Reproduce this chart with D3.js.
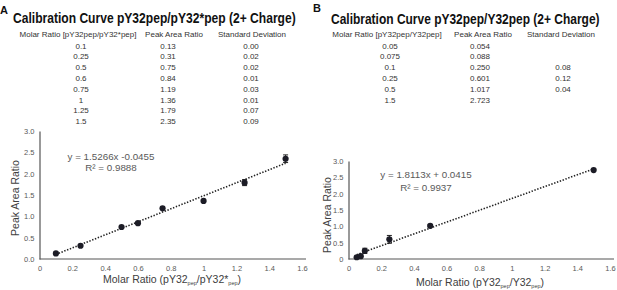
<!DOCTYPE html>
<html lang="en">
<head>
  <meta charset="UTF-8">
  <title>Calibration Curves</title>
  <script src="https://d3js.org/d3.v7.min.js"></script>
  <style>
    body { margin: 0; background: #fff; }
    svg { display: block; font-family: Arial, "Liberation Sans", sans-serif; }
  </style>
</head>
<body>
  <div id="chart"></div>
  <script>
    // panel A data
    const ratiosA = [0.1, 0.25, 0.5, 0.6, 0.75, 1, 1.25, 1.5]
    const ratioLabelsA = ['0.1', '0.25', '0.5', '0.6', '0.75', '1', '1.25', '1.5']
    const peakA = [0.13, 0.31, 0.75, 0.84, 1.19, 1.36, 1.79, 2.35]
    const peakLabelsA = ['0.13', '0.31', '0.75', '0.84', '1.19', '1.36', '1.79', '2.35']
    const sdA = [0.00, 0.02, 0.02, 0.01, 0.03, 0.01, 0.07, 0.09]
    const sdLabelsA = ['0.00', '0.02', '0.02', '0.01', '0.03', '0.01', '0.07', '0.09']
    const fitA = [1.5266, -0.0455]
    const fitTextA = ['y = 1.5266x -0.0455', 'R² = 0.9888']

    // panel B data
    const ratiosB = [0.05, 0.075, 0.1, 0.25, 0.5, 1.5]
    const ratioLabelsB = ['0.05', '0.075', '0.1', '0.25', '0.5', '1.5']
    const peakB = [0.054, 0.088, 0.250, 0.601, 1.017, 2.723]
    const peakLabelsB = ['0.054', '0.088', '0.250', '0.601', '1.017', '2.723']
    const sdB = [null, null, 0.08, 0.12, 0.04, null]
    const sdLabelsB = ['', '', '0.08', '0.12', '0.04', '']
    const fitB = [1.8113, 0.0415]
    const fitTextB = ['y = 1.8113x + 0.0415', 'R² = 0.9937']

    const xTicks = [0, 0.2, 0.4, 0.6, 0.8, 1, 1.2, 1.4, 1.6]
    const yTicks = [0, 0.5, 1, 1.5, 2, 2.5, 3]

    const width = 617
    const height = 290

    const svg = d3.select('#chart').append('svg')
      .attr('width', width)
      .attr('height', height)

    function panel(cfg) {
      const g = svg.append('g')

      g.append('text')
        .attr('x', cfg.letterX).attr('y', cfg.letterY)
        .attr('font-size', 11).attr('font-weight', 'bold').attr('fill', '#111')
        .text(cfg.letter)

      // title squeezed horizontally to the width seen in the picture
      const title = g.append('text')
        .attr('font-size', 14).attr('font-weight', 'bold').attr('fill', '#111')
        .text(cfg.title)
      const natural = title.node().getComputedTextLength()
      const sx = Math.min(1, cfg.titleLen / natural)
      title.attr('transform', `translate(${cfg.titleX},${cfg.titleY}) scale(${sx},1)`)

      // table
      const tbl = g.append('g').attr('font-size', 8).attr('fill', '#333')
      cfg.headers.forEach((h, i) => {
        tbl.append('text')
          .attr('x', cfg.headX[i]).attr('y', 37)
          .attr('text-anchor', 'middle')
          .text(h)
      })
      const cols = [cfg.ratioLabels, cfg.peakLabels, cfg.sdLabels]
      cols.forEach((col, c) => {
        col.forEach((t, r) => {
          if (!t) return
          tbl.append('text')
            .attr('x', cfg.colX[c]).attr('y', 48.5 + r * 10.8)
            .attr('text-anchor', 'middle')
            .text(t)
        })
      })

      const x = d3.scaleLinear().domain([0, 1.6]).range(cfg.xRange)
      const y = d3.scaleLinear().domain([0, 3]).range(cfg.yRange)

      const xAxis = g.append('g')
        .attr('transform', `translate(0,${cfg.yRange[0]})`)
        .call(d3.axisBottom(x).tickValues(xTicks).tickSize(0).tickPadding(7)
          .tickFormat(d => d3.format('~g')(d)))
      xAxis.select('.domain').attr('stroke', '#555').attr('stroke-width', 1.2)
        .attr('d', `M${cfg.xRange[0]},0H${cfg.xRange[1] + 4}`)
      xAxis.selectAll('text').attr('fill', '#595959').attr('font-size', 7.5)
        .attr('font-family', 'Arial, "Liberation Sans", sans-serif')

      const yAxis = g.append('g')
        .attr('transform', `translate(${cfg.xRange[0]},0)`)
        .call(d3.axisLeft(y).tickValues(yTicks).tickSize(0).tickPadding(5)
          .tickFormat(d => (d === 0 && cfg.zeroPlain) ? '0' : d3.format('.1f')(d)))
      yAxis.select('.domain').attr('stroke', '#555').attr('stroke-width', 1.2)
      yAxis.selectAll('text').attr('fill', '#595959').attr('font-size', 7.5)
        .attr('font-family', 'Arial, "Liberation Sans", sans-serif')

      // axis titles
      g.append('text')
        .attr('transform', `translate(${cfg.yTitleX},${cfg.yTitleY}) rotate(-90)`)
        .attr('text-anchor', 'middle').attr('font-size', 10.5).attr('fill', '#404040')
        .text('Peak Area Ratio')

      const xt = g.append('text')
        .attr('x', cfg.xTitleX).attr('y', cfg.xTitleY)
        .attr('text-anchor', 'middle').attr('font-size', 10.5).attr('fill', '#404040')
      cfg.xTitleParts.forEach(p => {
        const s = xt.append('tspan').text(p[0])
        if (p[1]) s.attr('font-size', 5.5).attr('dy', 2)
        else if (p[2]) s.attr('dy', -2)
      })

      // trendline
      const xs = d3.extent(cfg.ratios)
      g.append('line')
        .attr('x1', x(xs[0])).attr('y1', y(cfg.fit[0] * xs[0] + cfg.fit[1]))
        .attr('x2', x(xs[1])).attr('y2', y(cfg.fit[0] * xs[1] + cfg.fit[1]))
        .attr('stroke', '#222').attr('stroke-width', 1.6)
        .attr('stroke-dasharray', '1.4,1.6')

      // error bars
      cfg.ratios.forEach((r, i) => {
        const sd = cfg.sd[i]
        if (sd == null || sd === 0) return
        const cx = x(r)
        g.append('path')
          .attr('d', `M${cx},${y(cfg.peak[i] - sd)}V${y(cfg.peak[i] + sd)}` +
            `M${cx - 2.5},${y(cfg.peak[i] + sd)}H${cx + 2.5}` +
            `M${cx - 2.5},${y(cfg.peak[i] - sd)}H${cx + 2.5}`)
          .attr('stroke', '#222').attr('stroke-width', 1).attr('fill', 'none')
      })

      g.selectAll('circle.pt')
        .data(cfg.ratios)
        .enter().append('circle')
        .attr('class', 'pt')
        .attr('cx', d => x(d))
        .attr('cy', (d, i) => y(cfg.peak[i]))
        .attr('r', 3.1)
        .attr('fill', '#1c1c26')

      cfg.fitText.forEach((t, i) => {
        g.append('text')
          .attr('x', cfg.eqX).attr('y', cfg.eqY[i])
          .attr('text-anchor', 'middle').attr('font-size', 9.8).attr('fill', '#595959')
          .text(t)
      })
    }

    panel({
      letter: 'A', letterX: 0, letterY: 14,
      title: 'Calibration Curve pY32pep/pY32*pep (2+ Charge)',
      titleX: 13, titleY: 23, titleLen: 283,
      headers: ['Molar Ratio [pY32pep/pY32*pep]', 'Peak Area Ratio', 'Standard Deviation'],
      headX: [78, 174, 252],
      colX: [81, 168, 251],
      ratioLabels: ratioLabelsA, peakLabels: peakLabelsA, sdLabels: sdLabelsA,
      ratios: ratiosA, peak: peakA, sd: sdA, fit: fitA, fitText: fitTextA,
      xRange: [39.5, 302], yRange: [259, 131], zeroPlain: false,
      yTitleX: 19, yTitleY: 198,
      xTitleX: 172, xTitleY: 283,
      xTitleParts: [['Molar Ratio (pY32'], ['pep', true], ['/pY32*', false, true], ['pep', true], [')', false, true]],
      eqX: 111, eqY: [160, 171]
    })

    panel({
      letter: 'B', letterX: 313, letterY: 12,
      title: 'Calibration Curve pY32pep/Y32pep (2+ Charge)',
      titleX: 331, titleY: 24, titleLen: 269,
      headers: ['Molar Ratio [pY32pep/Y32pep]', 'Peak Area Ratio', 'Standard Deviation'],
      headX: [387, 483, 561],
      colX: [390, 480, 563],
      ratioLabels: ratioLabelsB, peakLabels: peakLabelsB, sdLabels: sdLabelsB,
      ratios: ratiosB, peak: peakB, sd: sdB, fit: fitB, fitText: fitTextB,
      xRange: [348.5, 610], yRange: [259, 161], zeroPlain: true,
      yTitleX: 331, yTitleY: 215,
      xTitleX: 480, xTitleY: 286,
      xTitleParts: [['Molar Ratio (pY32'], ['pep', true], ['/Y32', false, true], ['pep', true], [')', false, true]],
      eqX: 426, eqY: [177.5, 191]
    })
  </script>
</body>
</html>
